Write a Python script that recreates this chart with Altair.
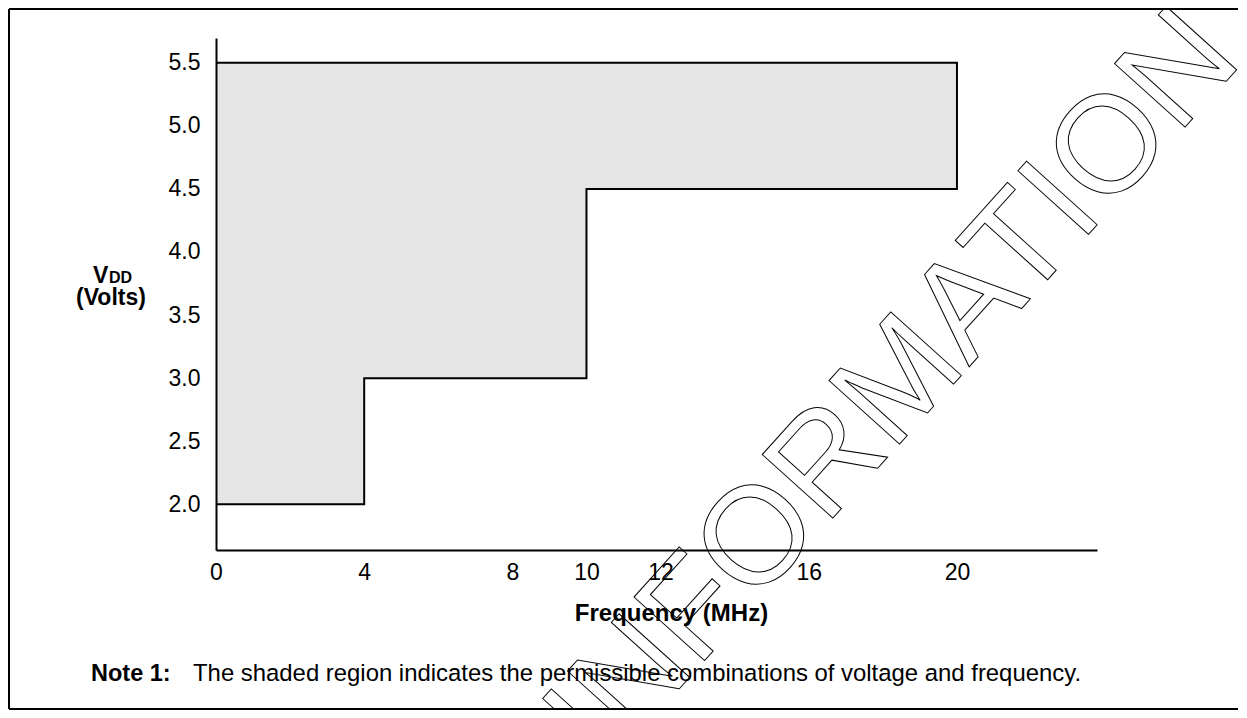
import altair as alt
import pandas as pd

# ---- data ----
freq_edges = [0, 4, 10, 20]          # MHz, step boundaries
vdd_min = [2.0, 3.0, 4.5]            # lower VDD bound for each frequency band
vdd_max = 5.5                        # upper VDD bound
x_ticks = [0, 4, 8, 10, 12, 16, 20]
y_ticks = [2.0, 2.5, 3.0, 3.5, 4.0, 4.5, 5.0, 5.5]
x_title = "Frequency (MHz)"
y_title_main = "V"
y_title_sub = "DD"
y_title_unit = "(Volts)"
note_label = "Note 1:"
note_text = "The shaded region indicates the permissible combinations of voltage and frequency."
watermark = "INFORMATION"

FONT = "Liberation Sans"

# area table (step-after)
area_df = pd.DataFrame({
    "f": freq_edges,
    "lo": vdd_min + [vdd_min[-1]],
    "hi": [vdd_max] * len(freq_edges),
})

# outline polygon
pts = [(freq_edges[0], vdd_max), (freq_edges[-1], vdd_max)]
for i in reversed(range(len(vdd_min))):
    pts.append((freq_edges[i + 1], vdd_min[i]))
    pts.append((freq_edges[i], vdd_min[i]))
outline_df = pd.DataFrame({"f": [p[0] for p in pts], "v": [p[1] for p in pts], "o": list(range(len(pts)))})

xscale = alt.Scale(domain=[0, 23.78], nice=False, zero=False)
yscale = alt.Scale(domain=[1.638, 5.696], nice=False, zero=False)

xaxis = alt.Axis(values=x_ticks, title=x_title, ticks=False, tickSize=0, grid=False, zindex=1,
                 domainColor="black", domainWidth=2, labelFont=FONT, labelFontSize=23,
                 labelColor="black", labelPadding=11, titleFont=FONT, titleFontSize=24,
                 titleFontWeight="bold", titleColor="black", titleX=455, titleY=70,
                 titleAlign="center", titleBaseline="alphabetic", labelFlush=False)
yaxis = alt.Axis(values=y_ticks, format=".1f", title=None, ticks=False, tickSize=0, grid=False, zindex=1,
                 domainColor="black", domainWidth=2, labelFont=FONT, labelFontSize=23,
                 labelColor="black", labelPadding=16, labelFlush=False)

area = alt.Chart(area_df).mark_area(interpolate="step-after", color="#e6e6e6").encode(
    x=alt.X("f:Q", scale=xscale, axis=xaxis),
    y=alt.Y("hi:Q", scale=yscale, axis=yaxis),
    y2="lo:Q",
)

outline = alt.Chart(outline_df).mark_line(color="black", strokeWidth=2).encode(
    x=alt.X("f:Q", scale=xscale),
    y=alt.Y("v:Q", scale=yscale),
    order="o:Q",
)

one = pd.DataFrame({"k": [0]})

def txt(text, x, y, size, weight="normal", align="left", baseline="alphabetic"):
    return alt.Chart(one).mark_text(text=text, font=FONT, fontSize=size, fontWeight=weight,
                                    align=align, baseline=baseline, color="black").encode(
        x=alt.value(x), y=alt.value(y))

t_v = txt(y_title_main, -123, 245, 23, "bold")
t_dd = txt(y_title_sub, -107, 245, 16, "bold")
t_volts = txt(y_title_unit, -105, 267, 23, "bold", align="center")
t_note = txt(note_label, -125, 643, 23.5, "bold")
t_note2 = txt(note_text, -23, 643, 23.9)

wm = alt.Chart(one).mark_text(text=watermark, font=FONT, fontSize=138, angle=312,
                              align="center", baseline="middle", fillOpacity=0,
                              stroke="black", strokeWidth=1).encode(
    x=alt.value(678), y=alt.value(351))

frame_left = alt.Chart(one).mark_rule(color="black", strokeWidth=2).encode(
    x=alt.value(-207), y=alt.value(-29), y2=alt.value(671))
frame_top = alt.Chart(one).mark_rule(color="black", strokeWidth=2).encode(
    x=alt.value(-207), x2=alt.value(1022), y=alt.value(-29))
frame_bottom = alt.Chart(one).mark_rule(color="black", strokeWidth=2).encode(
    x=alt.value(-207), x2=alt.value(1022), y=alt.value(671))

chart = alt.layer(area, outline, t_v, t_dd, t_volts, t_note, t_note2, wm,
                  frame_left, frame_top, frame_bottom).properties(
    width=881, height=512,
    padding={"left": 208, "top": 30, "right": 142, "bottom": 160},
    autosize=alt.AutoSizeParams(type="none"),
    background="white",
).configure_view(stroke=None)

chart.save("out.html", embed_options={"renderer": "svg", "actions": False})
